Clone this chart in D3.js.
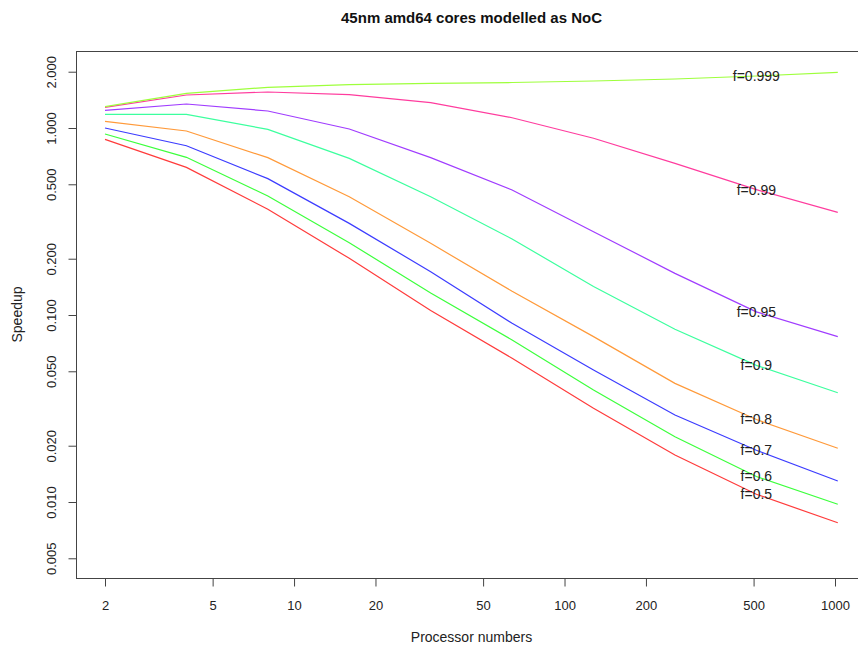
<!DOCTYPE html>
<html>
<head>
<meta charset="utf-8">
<script src="https://cdn.jsdelivr.net/npm/d3@7"></script>
<style>
  html, body { margin: 0; padding: 0; background: #ffffff; }
  svg { display: block; font-family: "Liberation Sans", Arial, Helvetica, sans-serif; }
</style>
</head>
<body>
<svg id="chart" width="858" height="649"></svg>
<script>
// ---------- data ----------
const processors = [2, 4, 8, 16, 32, 64, 128, 256, 512, 1024];

const seriesNames = ["f=0.5", "f=0.6", "f=0.7", "f=0.8", "f=0.9", "f=0.95", "f=0.99", "f=0.999"];
const seriesColors = ["#ff3b3b", "#3cff3c", "#3c3cff", "#ff9a3a", "#3cff9e", "#a03cff", "#ff3c9e", "#9eff3c"];

const f050 = [0.870, 0.616, 0.3675, 0.201, 0.1057, 0.0587, 0.0317, 0.01784, 0.0110, 0.00775];
const f060 = [0.929, 0.697, 0.433, 0.2435, 0.1311, 0.0735, 0.0397, 0.02234, 0.01368, 0.00972];
const f070 = [1.000, 0.804, 0.536, 0.309, 0.1704, 0.0903, 0.0508, 0.0292, 0.0189, 0.01295];
const f080 = [1.086, 0.964, 0.694, 0.429, 0.2417, 0.1339, 0.0766, 0.0431, 0.0276, 0.01938];
const f090 = [1.184, 1.182, 0.984, 0.688, 0.429, 0.255, 0.142, 0.0839, 0.0538, 0.0384];
const f095 = [1.243, 1.344, 1.233, 0.988, 0.694, 0.466, 0.279, 0.167, 0.104, 0.0766];
const f099 = [1.290, 1.501, 1.558, 1.507, 1.366, 1.135, 0.881, 0.647, 0.468, 0.354];
const f0999 = [1.300, 1.533, 1.651, 1.704, 1.734, 1.751, 1.784, 1.828, 1.897, 1.986];

const seriesValues = [f050, f060, f070, f080, f090, f095, f099, f0999];

const labelAt = 512; // labels are written at this processor count

const xTicks = [2, 5, 10, 20, 50, 100, 200, 500, 1000];
const yTicks = [2, 1, 0.5, 0.2, 0.1, 0.05, 0.02, 0.01, 0.005];
const yTickLabels = ["2.000", "1.000", "0.500", "0.200", "0.100", "0.050", "0.020", "0.010", "0.005"];

const titleText = "45nm amd64 cores modelled as NoC";
const xTitle = "Processor numbers";
const yTitle = "Speedup";

// ---------- layout ----------
const plot = { left: 76, top: 51, right: 867, bottom: 578 };

const svg = d3.select("#chart");

const x = d3.scaleLog().domain([2, 1000]).range([105, 835]);
const y = d3.scaleLog().domain([0.01, 1]).range([502, 128]);

svg.append("defs").append("clipPath").attr("id", "clip")
  .append("rect")
  .attr("x", plot.left).attr("y", plot.top)
  .attr("width", plot.right - plot.left).attr("height", plot.bottom - plot.top);

const line = d3.line()
  .x((d, i) => x(processors[i]))
  .y(d => y(d));

const gLines = svg.append("g").attr("clip-path", "url(#clip)");
seriesValues.forEach((vals, k) => {
  gLines.append("path")
    .datum(vals)
    .attr("fill", "none")
    .attr("stroke", seriesColors[k])
    .attr("stroke-width", 1.2)
    .attr("d", line);
});

const li = processors.indexOf(labelAt);
seriesValues.forEach((vals, k) => {
  svg.append("text")
    .attr("x", x(labelAt))
    .attr("y", y(vals[li]))
    .attr("dy", "0.35em")
    .attr("text-anchor", "middle")
    .attr("font-size", 14)
    .attr("fill", "#222")
    .text(seriesNames[k]);
});

svg.append("rect")
  .attr("x", plot.left + 0.5).attr("y", plot.top + 0.5)
  .attr("width", plot.right - plot.left).attr("height", plot.bottom - plot.top)
  .attr("fill", "none").attr("stroke", "#444").attr("stroke-width", 1);

const xAxis = d3.axisBottom(x).tickValues(xTicks).tickSize(8).tickFormat(d3.format("d"));
const gx = svg.append("g").attr("transform", `translate(0,${plot.bottom + 0.5})`).call(xAxis);
gx.select(".domain").remove();
gx.selectAll(".tick line").attr("stroke", "#444");
gx.selectAll(".tick text")
  .attr("y", 31).attr("dy", 0)
  .attr("font-size", 13)
  .attr("font-family", "Liberation Sans, Arial, sans-serif")
  .attr("fill", "#222");

const yAxis = d3.axisLeft(y).tickValues(yTicks).tickSize(8)
  .tickFormat((d, i) => yTickLabels[i]);
const gy = svg.append("g").attr("transform", `translate(${plot.left + 0.5},0)`).call(yAxis);
gy.select(".domain").remove();
gy.selectAll(".tick line").attr("stroke", "#444");
gy.selectAll(".tick text")
  .attr("transform", "rotate(-90)")
  .attr("x", 0).attr("y", -21).attr("dy", 0)
  .attr("text-anchor", "middle")
  .attr("font-size", 13)
  .attr("font-family", "Liberation Sans, Arial, sans-serif")
  .attr("fill", "#222");

svg.append("text")
  .attr("x", (plot.left + plot.right) / 2).attr("y", 23)
  .attr("text-anchor", "middle")
  .attr("font-size", 15).attr("font-weight", "bold")
  .attr("fill", "#111")
  .text(titleText);

svg.append("text")
  .attr("x", (plot.left + plot.right) / 2).attr("y", 642)
  .attr("text-anchor", "middle")
  .attr("font-size", 14)
  .attr("fill", "#222")
  .text(xTitle);

svg.append("text")
  .attr("transform", `translate(22,${(plot.top + plot.bottom) / 2}) rotate(-90)`)
  .attr("text-anchor", "middle")
  .attr("font-size", 14)
  .attr("fill", "#222")
  .text(yTitle);
</script>
</body>
</html>
